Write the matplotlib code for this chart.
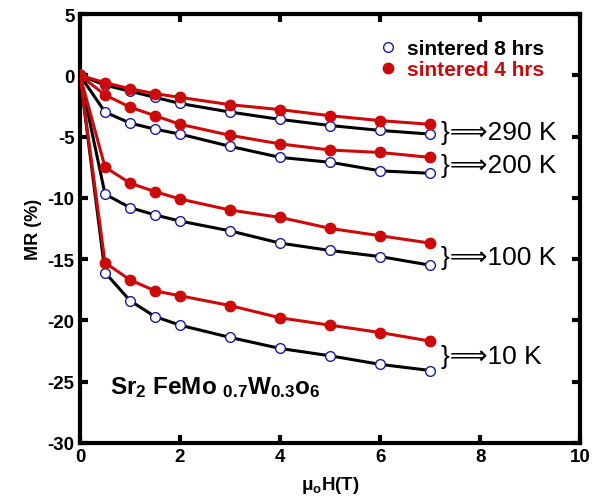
import numpy as np
import matplotlib.pyplot as plt

plt.rcParams['font.family'] = ['Liberation Sans', 'DejaVu Sans']
plt.rcParams['mathtext.fontset'] = 'custom'
plt.rcParams['mathtext.rm'] = 'Liberation Sans:bold'
plt.rcParams['mathtext.it'] = 'Liberation Sans:bold'
plt.rcParams['mathtext.bf'] = 'Liberation Sans:bold'
plt.rcParams['axes.unicode_minus'] = False

# field values (T)
H = [0, 0.5, 1, 1.5, 2, 3, 4, 5, 6, 7]

# sintered 8 hrs (blue open circles, black line)
mr8_290 = [0, -0.8, -1.3, -1.8, -2.3, -3.0, -3.6, -4.1, -4.5, -4.8]
mr8_200 = [0, -3.0, -3.9, -4.4, -4.8, -5.8, -6.7, -7.1, -7.8, -8.0]
mr8_100 = [0, -9.7, -10.8, -11.4, -11.9, -12.7, -13.7, -14.3, -14.8, -15.5]
mr8_10 = [0, -16.1, -18.4, -19.7, -20.4, -21.4, -22.3, -22.9, -23.6, -24.1]

# sintered 4 hrs (red filled circles)
mr4_290 = [0, -0.6, -1.1, -1.5, -1.8, -2.4, -2.8, -3.3, -3.7, -4.0]
mr4_200 = [0, -1.6, -2.6, -3.3, -4.0, -4.9, -5.6, -6.1, -6.3, -6.7]
mr4_100 = [0, -7.5, -8.8, -9.5, -10.1, -11.0, -11.6, -12.5, -13.1, -13.7]
mr4_10 = [0, -15.3, -16.7, -17.6, -18.0, -18.8, -19.8, -20.4, -21.0, -21.7]

temps = ['290 K', '200 K', '100 K', '10 K']
label_y = [-4.6, -7.3, -14.8, -22.9]

fig = plt.figure(figsize=(5.97, 5.02), dpi=100)
ax = fig.add_axes([0.134, 0.116, 0.838, 0.854])

blue = '#1a1aa0'
red = '#cc0a0a'
for i, s in enumerate([mr8_290, mr8_200, mr8_100, mr8_10]):
    ax.plot(H, s, color='black', lw=2.2, marker='o', ms=7, mfc='white',
            mec=blue, mew=1.0, label='sintered 8 hrs' if i == 0 else None, zorder=2)
for i, s in enumerate([mr4_290, mr4_200, mr4_100, mr4_10]):
    ax.plot(H, s, color=red, lw=2.2, marker='o', ms=7.5, mfc=red,
            mec=red, label='sintered 4 hrs' if i == 0 else None, zorder=3)

for t, y in zip(temps, label_y):
    ax.text(7.22, y, '}\u27f9' + t, fontsize=19, va='center', ha='left')

ax.text(0.6, -25.4, r'Sr$_2$ FeMo $_{0.7}$W$_{0.3}$o$_6$', fontsize=17.5,
        fontweight='bold', va='center')

leg = ax.legend(loc='upper right', bbox_to_anchor=(0.965, 0.985), frameon=False,
                handlelength=0.6, handletextpad=0.6, labelspacing=0.1,
                prop={'weight': 'bold', 'size': 15})
for h in leg.legend_handles:
    h.set_linestyle('')
leg.get_texts()[1].set_color(red)

ax.set_xlim(0, 10)
ax.set_ylim(-30, 5)
ax.set_xticks([0, 2, 4, 6, 8, 10])
ax.set_yticks(np.arange(-30, 6, 5))
ax.tick_params(direction='in', length=6, width=3, top=True, right=True,
               labelsize=13.5, pad=4)
for lab in ax.get_xticklabels() + ax.get_yticklabels():
    lab.set_fontweight('bold')
for sp in ax.spines.values():
    sp.set_linewidth(3)

ax.set_xlabel('\u03bc$_o$H(T)', fontsize=13.5, fontweight='bold', labelpad=6)
ax.set_ylabel('MR (%)', fontsize=13, fontweight='bold', labelpad=4)

fig.savefig('out.png', dpi=100)
